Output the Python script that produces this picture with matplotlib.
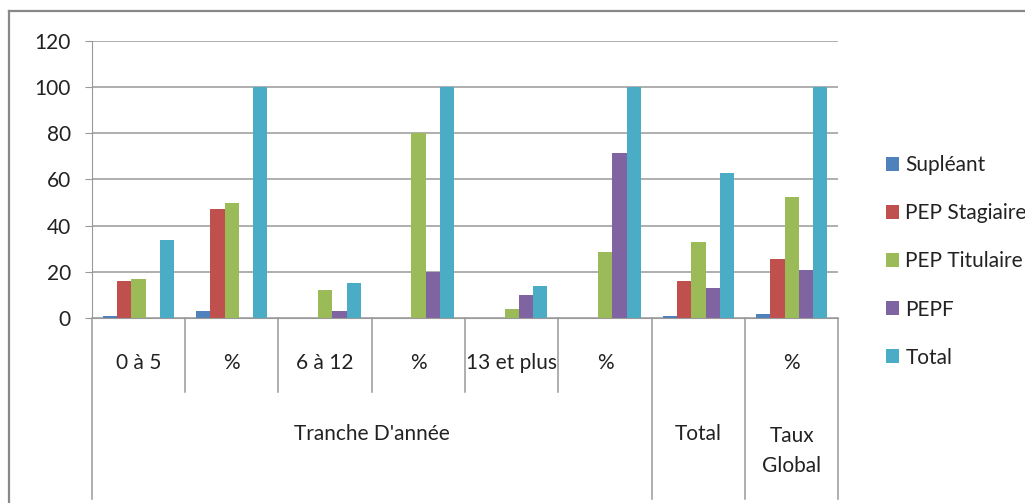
import matplotlib
matplotlib.use("Agg")
import matplotlib.pyplot as plt
import matplotlib.transforms as mtransforms
from matplotlib.lines import Line2D
import numpy as np

# sub-categories on the first level of the x axis
sub_labels = ["0 à 5", "%", "6 à 12", "%", "13 et plus", "%", "", "%"]
# second level: label, first index, last index (exclusive)
group_labels = ["Tranche D'année", "Total", "Taux\nGlobal"]
group_starts = [0, 6, 7]
group_ends = [6, 7, 8]

series_names = ["Supléant", "PEP Stagiaire", "PEP Titulaire", "PEPF", "Total"]
suppleant = [1, 2.9, 0, 0, 0, 0, 1, 1.6]
stagiaire = [16, 47.1, 0, 0, 0, 0, 16, 25.4]
titulaire = [17, 50, 12, 80, 4, 28.6, 33, 52.4]
pepf = [0, 0, 3, 20, 10, 71.4, 13, 20.6]
total = [34, 100, 15, 100, 14, 100, 63, 100]
series = [suppleant, stagiaire, titulaire, pepf, total]
colors = ["#4F81BD", "#C0504D", "#9BBB59", "#8064A2", "#4BACC6"]

plt.rcParams["font.family"] = ["Lato", "DejaVu Sans"]
plt.rcParams["font.size"] = 15
txt_color = "#222222"
line_color = "#999999"

fig = plt.figure(figsize=(10.25, 5.03), dpi=100)
ax = fig.add_axes([0.0895, 0.3678, 0.7285, 0.5507])

n = len(sub_labels)
x = np.arange(n)
width = 0.153
offsets = (np.arange(len(series)) - 2) * width
for vals, name, col, off in zip(series, series_names, colors, offsets):
    ax.bar(x + off, vals, width, color=col, label=name, linewidth=0)

ax.set_xlim(-0.5, n - 0.5)
ax.set_ylim(0, 120)
ax.set_yticks(np.arange(0, 121, 20))
ax.yaxis.grid(True, color=line_color, linewidth=1.1)
ax.set_axisbelow(True)
ax.tick_params(axis="y", length=5, color=line_color, pad=10, labelcolor=txt_color)
ax.tick_params(axis="x", bottom=False, labelbottom=False)
for side in ["top", "right"]:
    ax.spines[side].set_visible(False)
ax.spines["left"].set_color(line_color)
ax.spines["bottom"].set_color(line_color)

# two-level category axis drawn under the plot
trans = mtransforms.blended_transform_factory(ax.transData, ax.transAxes)
major = set(group_starts) | {n}
for b in range(n + 1):
    bottom = -0.653 if b in major else -0.267
    ax.add_line(Line2D([b - 0.5, b - 0.5], [0, bottom], transform=trans,
                       color=line_color, linewidth=1.1, clip_on=False))
for i, lab in enumerate(sub_labels):
    ax.text(i, -0.163, lab, transform=trans, ha="center", va="center",
            color=txt_color, clip_on=False)
for lab, s, e in zip(group_labels, group_starts, group_ends):
    ypos = -0.48 if "\n" in lab else -0.42
    ax.text((s + e - 1) / 2, ypos, lab, transform=trans, ha="center", va="center",
            color=txt_color, linespacing=1.6, clip_on=False)

leg = ax.legend(loc="center left", bbox_to_anchor=(1.038, 0.204), frameon=False,
                handlelength=0.65, handleheight=0.65, handletextpad=0.3,
                labelspacing=1.35, labelcolor=txt_color)

# chart frame (left and top edges)
fig.add_artist(Line2D([9 / 1025, 9 / 1025], [0, 1 - 11 / 503], color="#888888",
                      linewidth=1.6, transform=fig.transFigure))
fig.add_artist(Line2D([9 / 1025, 1], [1 - 11 / 503, 1 - 11 / 503], color="#888888",
                      linewidth=1.6, transform=fig.transFigure))

fig.savefig("out.png", dpi=100)
